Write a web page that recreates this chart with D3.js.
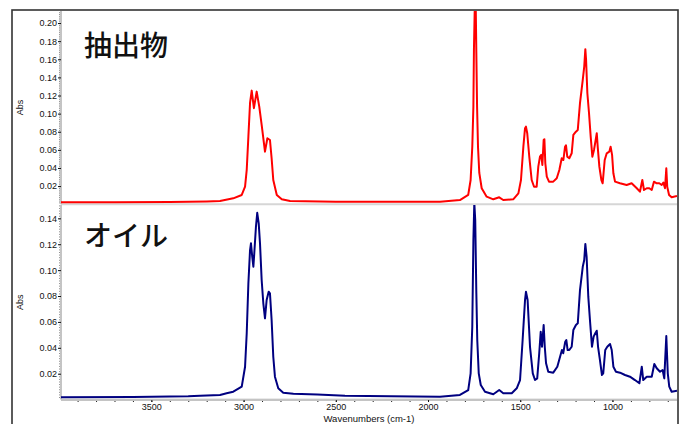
<!DOCTYPE html>
<html lang="ja">
<head>
<meta charset="UTF-8">
<title>FT-IR 抽出物 / オイル</title>
<script src="https://d3js.org/d3.v7.min.js"></script>
<style>
  body { margin: 0; background: #fff; }
  svg { display: block; font-family: "Liberation Sans", Arial, sans-serif; }
  .axis path.domain { stroke: #c4c4c4; stroke-width: 2px; }
  .axis .tick line { stroke: #111; }
  .axis text { font-size: 9px; fill: #111; }
  .minor path.domain { display: none; }
  .minor .tick line { stroke: #222; }
  .spec { fill: none; stroke-width: 2px; stroke-linejoin: round; }
  .title { font-family: "Noto Sans CJK JP", sans-serif; font-size: 28px; font-weight: 500; fill: #111; }
</style>
</head>
<body>
<svg id="canvas" width="683" height="424"></svg>
<script>
// spectra: [wavenumber cm-1, absorbance]
var extractSpec = [[3990,0.0021],[3700,0.0022],[3400,0.0024],[3200,0.0030],[3128,0.0035],[3056,0.0065],[3010,0.0102],[2992,0.0193],[2983,0.0378],[2974,0.0746],[2965,0.1118],[2956,0.1254],[2944,0.1060],[2929,0.1243],[2915,0.1077],[2902,0.0875],[2884,0.0580],[2871,0.0728],[2857,0.0709],[2848,0.0507],[2839,0.0267],[2820,0.0102],[2793,0.0054],[2748,0.0035],[2500,0.0028],[2200,0.0026],[1935,0.0028],[1827,0.0046],[1782,0.0102],[1769,0.0267],[1760,0.0635],[1754,0.1077],[1751,0.1704],[1747,0.2127],[1741,0.2146],[1738,0.1671],[1734,0.1077],[1729,0.0635],[1722,0.0345],[1709,0.0176],[1682,0.0083],[1646,0.0054],[1614,0.0076],[1592,0.0046],[1538,0.0054],[1510,0.0120],[1496,0.0267],[1483,0.0635],[1474,0.0839],[1469,0.0856],[1462,0.0783],[1451,0.0525],[1438,0.0267],[1425,0.0193],[1411,0.0193],[1402,0.0414],[1393,0.0525],[1386,0.0544],[1380,0.0433],[1373,0.0709],[1369,0.0717],[1364,0.0452],[1356,0.0304],[1344,0.0249],[1321,0.0249],[1302,0.0286],[1288,0.0378],[1275,0.0507],[1266,0.0488],[1257,0.0635],[1252,0.0651],[1245,0.0525],[1234,0.0507],[1221,0.0562],[1212,0.0765],[1198,0.0801],[1188,0.0820],[1176,0.1115],[1161,0.1372],[1153,0.1519],[1147,0.1712],[1143,0.1593],[1136,0.1225],[1127,0.1004],[1118,0.0746],[1109,0.0525],[1100,0.0599],[1091,0.0709],[1085,0.0783],[1080,0.0635],[1071,0.0414],[1060,0.0267],[1053,0.0231],[1042,0.0488],[1031,0.0562],[1017,0.0580],[1010,0.0635],[1002,0.0544],[995,0.0341],[986,0.0249],[959,0.0231],[923,0.0212],[896,0.0231],[868,0.0176],[851,0.0138],[838,0.0267],[829,0.0157],[814,0.0176],[800,0.0176],[787,0.0157],[775,0.0249],[760,0.0231],[746,0.0231],[733,0.0212],[724,0.0238],[715,0.0176],[708,0.0397],[703,0.0193],[693,0.0102],[679,0.0076],[650,0.0091]];

var oilSpec = [[3990,0.0018],[3600,0.0020],[3300,0.0025],[3236,0.0030],[3128,0.0036],[3092,0.0049],[3056,0.0061],[3010,0.0100],[2992,0.0254],[2983,0.0512],[2974,0.0898],[2965,0.1155],[2960,0.1207],[2953,0.1103],[2947,0.1026],[2942,0.1130],[2933,0.1335],[2926,0.1443],[2918,0.1361],[2911,0.1207],[2902,0.0924],[2893,0.0744],[2884,0.0628],[2875,0.0769],[2864,0.0833],[2857,0.0821],[2848,0.0615],[2839,0.0331],[2830,0.0177],[2812,0.0087],[2785,0.0053],[2730,0.0045],[2600,0.0040],[2450,0.0030],[2200,0.0025],[1935,0.0022],[1827,0.0036],[1782,0.0074],[1769,0.0203],[1760,0.0563],[1754,0.1232],[1749,0.1520],[1744,0.1387],[1738,0.0823],[1733,0.0460],[1725,0.0203],[1714,0.0113],[1691,0.0061],[1646,0.0041],[1614,0.0074],[1592,0.0049],[1546,0.0049],[1519,0.0087],[1501,0.0151],[1487,0.0460],[1474,0.0769],[1469,0.0833],[1460,0.0769],[1447,0.0408],[1432,0.0203],[1420,0.0151],[1408,0.0164],[1397,0.0358],[1389,0.0524],[1382,0.0408],[1373,0.0576],[1367,0.0408],[1360,0.0280],[1348,0.0215],[1321,0.0208],[1299,0.0254],[1284,0.0331],[1274,0.0383],[1267,0.0358],[1256,0.0447],[1250,0.0460],[1243,0.0383],[1234,0.0383],[1221,0.0408],[1212,0.0537],[1198,0.0576],[1188,0.0589],[1176,0.0846],[1161,0.1026],[1153,0.1078],[1147,0.1202],[1140,0.1103],[1131,0.0795],[1122,0.0615],[1111,0.0408],[1102,0.0486],[1093,0.0512],[1085,0.0532],[1078,0.0408],[1068,0.0306],[1057,0.0190],[1050,0.0203],[1039,0.0383],[1028,0.0408],[1013,0.0429],[1004,0.0383],[995,0.0254],[981,0.0215],[959,0.0208],[932,0.0190],[905,0.0177],[878,0.0151],[854,0.0126],[841,0.0254],[833,0.0151],[814,0.0177],[787,0.0177],[773,0.0275],[760,0.0242],[742,0.0215],[728,0.0229],[719,0.0164],[708,0.0491],[700,0.0203],[692,0.0100],[679,0.0061],[650,0.0069]];

var xTicks = [3500, 3000, 2500, 2000, 1500, 1000];
var topTicks = [0.02, 0.04, 0.06, 0.08, 0.10, 0.12, 0.14, 0.16, 0.18, 0.20];
var bottomTicks = [0.02, 0.04, 0.06, 0.08, 0.10, 0.12, 0.14];
var panelTitles = ["抽出物", "オイル"];

var svg = d3.select('svg');

var x = d3.scaleLinear().domain([3990, 650]).range([61, 677]);

var panels = [
  {data: extractSpec, ticks: topTicks, max: 0.2133, y0: 204.2, y1: 11, color: "#ff0000", title: panelTitles[0], titleY: 56},
  {data: oilSpec, ticks: bottomTicks, max: 0.1503, y0: 399.6, y1: 205, color: "#000080", title: panelTitles[1], titleY: 246}
];

// outer frame
svg.append("rect")
  .attr("x", 12).attr("y", 10)
  .attr("width", 666).attr("height", 430)
  .attr("fill", "#fff")
  .attr("stroke", "#333")
  .attr("stroke-width", 1.6);

panels.forEach(function(p, i) {
  var y = d3.scaleLinear().domain([0, p.max]).range([p.y0, p.y1]);

  svg.append("clipPath").attr("id", "clip" + i)
    .append("rect")
      .attr("x", 61).attr("y", p.y1)
      .attr("width", 616).attr("height", p.y0 - p.y1);

  // panel floor (light gray band)
  svg.append("line")
    .attr("x1", 61).attr("x2", 677)
    .attr("y1", p.y0).attr("y2", p.y0)
    .attr("stroke", "#d6d6d6").attr("stroke-width", 2);

  // minor y ticks (dotted look)
  svg.append("g").attr("class", "minor")
    .attr("transform", "translate(61,0)")
    .call(d3.axisLeft(y).tickValues(d3.range(1, Math.floor(p.max / 0.002) + 1).map(function(k) { return k * 0.002; }))
      .tickSize(1.5).tickFormat(""));

  var ya = svg.append("g").attr("class", "axis")
    .attr("transform", "translate(61,0)")
    .call(d3.axisLeft(y).tickValues(p.ticks).tickSize(3).tickPadding(1).tickFormat(d3.format(".2f")));
  ya.select("path.domain").attr("d", "M0," + p.y0 + "V" + p.y1);

  svg.append("text")
    .attr("transform", "translate(23," + ((p.y0 + p.y1) / 2) + ") rotate(-90)")
    .attr("text-anchor", "middle")
    .attr("font-size", 9)
    .attr("fill", "#111")
    .text("Abs");

  var line = d3.line()
    .x(function(d) { return x(d[0]); })
    .y(function(d) { return y(d[1]); });

  svg.append("path")
    .datum(p.data)
    .attr("class", "spec")
    .attr("clip-path", "url(#clip" + i + ")")
    .attr("stroke", p.color)
    .attr("d", line);

  svg.append("text")
    .attr("class", "title")
    .attr("x", 84).attr("y", p.titleY)
    .text(p.title);
});

// x axis
svg.append("g").attr("class", "minor")
  .attr("transform", "translate(0,400)")
  .call(d3.axisBottom(x).tickValues(d3.range(700, 4000, 100)).tickSize(2).tickFormat(""));

var xa = svg.append("g").attr("class", "axis")
  .attr("transform", "translate(0,400)")
  .call(d3.axisBottom(x).tickValues(xTicks).tickSize(2).tickPadding(2).tickFormat(d3.format("d")));
xa.select("path.domain").attr("d", "M61,0H677");

svg.append("text")
  .attr("x", 369).attr("y", 422)
  .attr("text-anchor", "middle")
  .attr("font-size", 9.5)
  .attr("fill", "#111")
  .text("Wavenumbers (cm-1)");
</script>
</body>
</html>
